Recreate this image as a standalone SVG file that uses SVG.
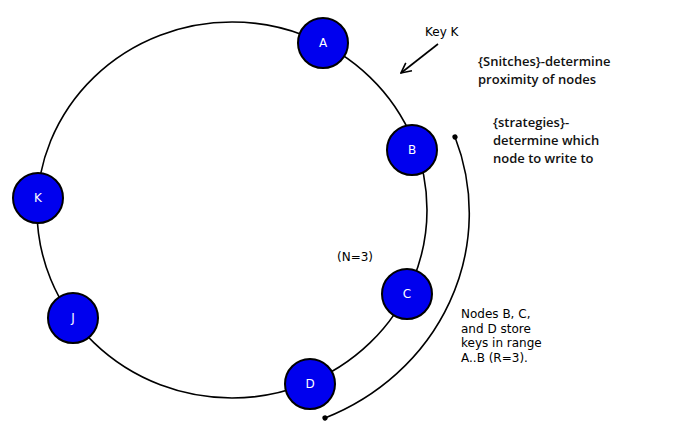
<svg xmlns="http://www.w3.org/2000/svg" width="698" height="434" viewBox="0 0 698 434">
<style>
.node circle{fill:#0000ee;stroke:#000;stroke-width:2}
.node text{fill:#fff;font-family:"DejaVu Sans",sans-serif;font-size:12px;text-anchor:middle}
.line{fill:none;stroke:#000;stroke-width:1.6}
.note{font-family:"Open Sans","Liberation Sans",sans-serif;font-size:13px;font-weight:600;fill:#111}
.small{font-family:"DejaVu Sans",sans-serif;font-size:12px;fill:#000}
</style>
<defs>
<marker id="dot" viewBox="0 0 6 6" refX="3" refY="3" markerWidth="6" markerHeight="6" markerUnits="userSpaceOnUse" orient="auto"><circle cx="3" cy="3" r="2.6" fill="#000"/></marker>
<marker id="open" viewBox="0 0 12 12" refX="11" refY="6" markerWidth="12" markerHeight="12" markerUnits="userSpaceOnUse" orient="auto"><path d="M1,1 L11,6 L1,11" fill="none" stroke="#000" stroke-width="1.6"/></marker>
</defs>
<rect width="698" height="434" fill="#fff"/>
<g id="connectors">
<ellipse class="line" cx="232" cy="210" rx="195" ry="188"/>
<path class="line" d="M455 137 A235 222 0 0 1 325 418" marker-start="url(#dot)" marker-end="url(#dot)"/>
<path class="line" d="M438 44 L401 73" marker-end="url(#open)"/>
</g>
<g id="node-A" class="node"><circle cx="323" cy="43" r="25"/><text x="323" y="47">A</text></g>
<g id="node-B" class="node"><circle cx="412" cy="150" r="25"/><text x="412" y="154">B</text></g>
<g id="node-C" class="node"><circle cx="407" cy="294" r="25"/><text x="407" y="298">C</text></g>
<g id="node-D" class="node"><circle cx="310" cy="384" r="25"/><text x="310" y="388">D</text></g>
<g id="node-J" class="node"><circle cx="73" cy="318" r="25"/><text x="73" y="322">J</text></g>
<g id="node-K" class="node"><circle cx="38" cy="198" r="25"/><text x="38" y="202">K</text></g>
<g id="labels">
<text class="small" x="425" y="36" font-size="12.5">Key K</text>
<text class="note" x="478" y="66">{Snitches}-determine</text>
<text class="note" x="478" y="84">proximity of nodes</text>
<text class="note" x="493" y="127">{strategies}-</text>
<text class="note" x="493" y="145">determine which</text>
<text class="note" x="493" y="163">node to write to</text>
<text class="small" x="337" y="261" font-size="13">(N=3)</text>
<text class="small" x="461" y="318">Nodes B, C,</text>
<text class="small" x="461" y="333">and D store</text>
<text class="small" x="461" y="347">keys in range</text>
<text class="small" x="461" y="362">A..B (R=3).</text>
</g>
</svg>
